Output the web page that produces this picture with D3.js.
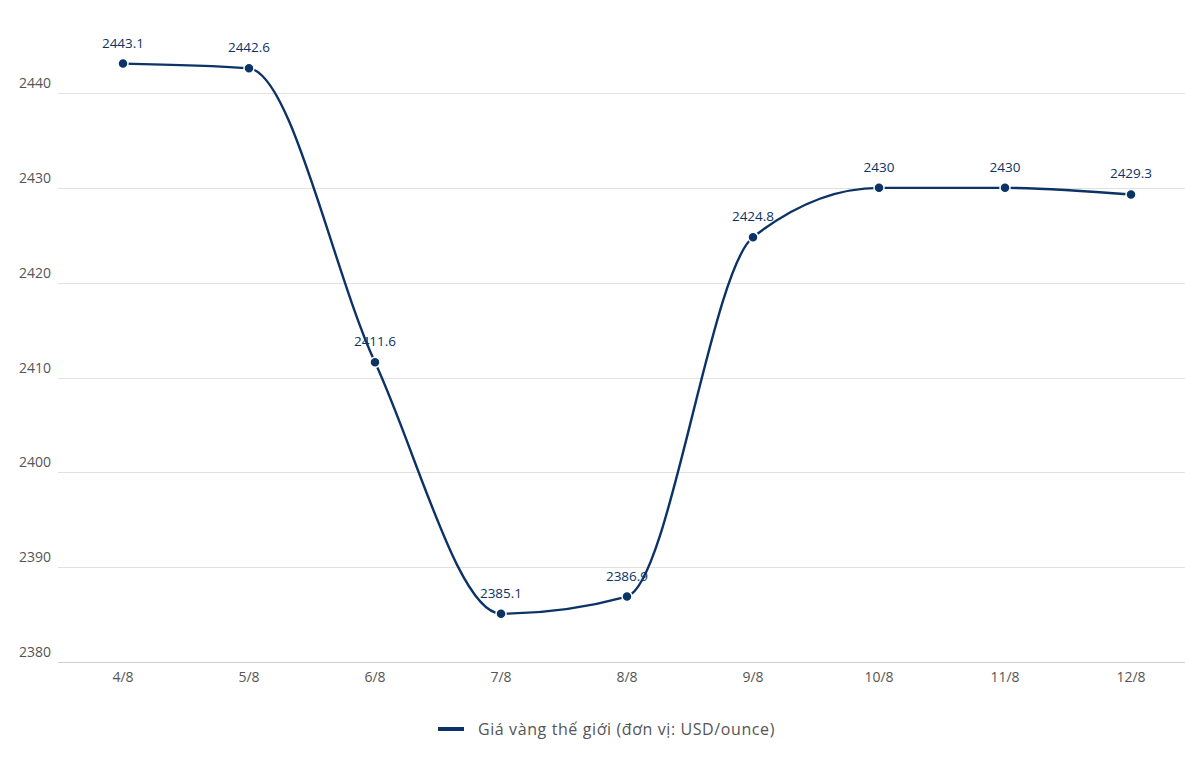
<!DOCTYPE html>
<html>
<head>
<meta charset="utf-8">
<script src="https://cdn.jsdelivr.net/npm/d3@7"></script>
<style>
  body { margin: 0; background: #fff; }
  svg { display: block; font-family: "Open Sans", "Noto Sans", sans-serif; }
</style>
</head>
<body>
<svg id="chart" width="1185" height="772"></svg>
<script>
// data
var days = ["4/8", "5/8", "6/8", "7/8", "8/8", "9/8", "10/8", "11/8", "12/8"];
var prices = [2443.1, 2442.6, 2411.6, 2385.1, 2386.9, 2424.8, 2430, 2430, 2429.3];
var yTicks = [2380, 2390, 2400, 2410, 2420, 2430, 2440];
var seriesName = "Giá vàng thế giới (đơn vị: USD/ounce)";

var navy = "#0c3366";
var chart = d3.select("#chart");

var x = d3.scaleBand().domain(days).range([60, 1194]);
var y = d3.scaleLinear().domain([2380, 2440]).range([662, 93]);
var cx = function(d) { return x(d) + x.bandwidth() / 2; };

// grid lines + y labels (labels sit above their line)
var grid = chart.append("g");
grid.selectAll("line")
    .data(yTicks)
    .enter()
    .append("line")
    .attr("x1", 58)
    .attr("x2", 1185)
    .attr("y1", function(d) { return Math.round(y(d)) + 0.5; })
    .attr("y2", function(d) { return Math.round(y(d)) + 0.5; })
    .style("stroke", function(d) { return d === 2380 ? "#cfcfcf" : "#e1e1e1"; })
    .style("stroke-width", 1);
grid.selectAll("text")
    .data(yTicks)
    .enter()
    .append("text")
    .attr("x", 19)
    .attr("y", function(d) { return y(d) - 5; })
    .style("font-size", "14px")
    .style("fill", "#555")
    .text(function(d) { return d; });

// x labels
chart.append("g").selectAll("text")
    .data(days)
    .enter()
    .append("text")
    .attr("x", cx)
    .attr("y", 682)
    .attr("text-anchor", "middle")
    .style("font-size", "14px")
    .style("fill", "#555")
    .text(function(d) { return d; });

var pts = d3.zip(days, prices);

var line = d3.line()
    .x(function(d) { return cx(d[0]); })
    .y(function(d) { return y(d[1]); })
    .curve(d3.curveMonotoneX);

chart.append("path")
    .datum(pts)
    .attr("d", line)
    .style("fill", "none")
    .style("stroke", navy)
    .style("stroke-width", 2.4);

chart.append("g").selectAll("circle")
    .data(pts)
    .enter()
    .append("circle")
    .attr("cx", function(d) { return cx(d[0]); })
    .attr("cy", function(d) { return y(d[1]); })
    .attr("r", 5)
    .style("fill", navy)
    .style("stroke", "#fff")
    .style("stroke-width", 1.5);

chart.append("g").selectAll("text")
    .data(pts)
    .enter()
    .append("text")
    .attr("x", function(d) { return cx(d[0]); })
    .attr("y", function(d) { return y(d[1]) - 16; })
    .attr("text-anchor", "middle")
    .style("font-size", "13.5px")
    .style("fill", navy)
    .text(function(d) { return d[1]; });

// legend
var legend = chart.append("g");
legend.append("line")
    .attr("x1", 438).attr("x2", 464)
    .attr("y1", 729).attr("y2", 729)
    .style("stroke", navy)
    .style("stroke-width", 4);
legend.append("text")
    .attr("x", 478)
    .attr("y", 735)
    .style("font-size", "16px")
    .style("letter-spacing", "0.6px")
    .style("fill", "#555")
    .text(seriesName);
</script>
</body>
</html>
